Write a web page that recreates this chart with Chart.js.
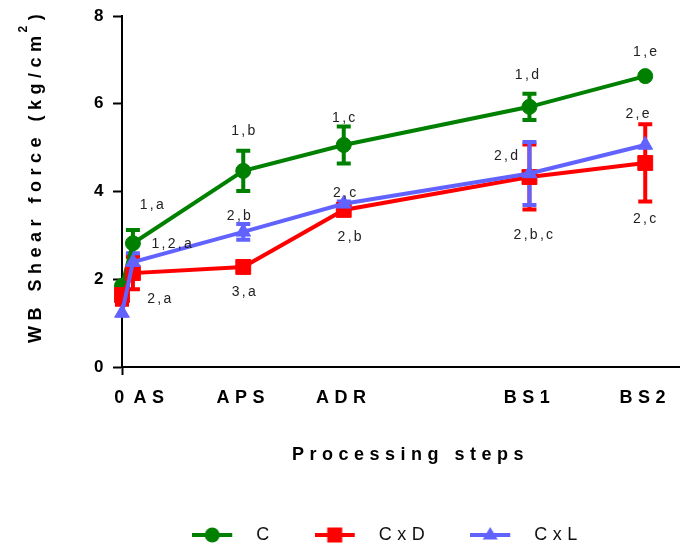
<!DOCTYPE html>
<html>
<head>
<meta charset="utf-8">
<script src="https://cdn.jsdelivr.net/npm/chart.js@4.4.1/dist/chart.umd.min.js"></script>
<style>
  html, body { margin: 0; padding: 0; background: #fff; }
  canvas { display: block; }
</style>
</head>
<body>
<canvas id="myChart" width="683" height="546"></canvas>
<script>
// x positions of the processing steps (arbitrary linear units)
const steps = [0, 1, 11.1, 20.3, 37.3, 47.9];
const tickX = [0, 2.7, 11.1, 20.3, 37.3, 47.9];
const tickLabels = ["0", "AS", "APS", "ADR", "BS1", "BS2"];

const seriesNames = ["C", "CxD", "CxL"];
const cValues = [1.85, 2.82, 4.47, 5.06, 5.93, 6.63];
const cxdValues = [1.64, 2.14, 2.28, 3.58, 4.33, 4.65];
const cxlValues = [1.23, 2.39, 3.08, 3.72, 4.41, 5.06];

const cErr = [0, 0.3, 0.46, 0.42, 0.3, 0];
const cxdErr = [0.22, 0.37, 0.05, 0.08, 0.74, 0.88];
const cxlErr = [0, 0.2, 0.18, 0.05, 0.72, 0];

// significance letters, anchored in data units
const annotText = ["1,a", "1,2,a", "2,a", "1,b", "2,b", "3,a", "1,c", "2,c", "2,b",
                   "1,d", "2,d", "2,b,c", "1,e", "2,e", "2,c"];
const annotX = [2.83, 4.65, 3.51, 11.2, 10.8, 11.25, 20.4, 20.49, 20.94,
                37.17, 35.26, 37.76, 47.99, 47.3, 47.94];
const annotY = [3.69, 2.80, 1.55, 5.38, 3.44, 1.71, 5.68, 3.97, 2.96,
                6.66, 4.81, 3.01, 7.18, 5.77, 3.37];

const colors = ["#008000", "#ff0000", "#6262ff"];
const values = [cValues, cxdValues, cxlValues];
const errors = [cErr, cxdErr, cxlErr];
const styles = ["circle", "rect", "triangle"];
const radii = [7.5, 10.5, 8.5];

const FONT = "'Liberation Sans', Arial, sans-serif";

function legendIcon(i) {
  const c = document.createElement("canvas");
  c.width = 55; c.height = 18;
  const g = c.getContext("2d");
  g.strokeStyle = colors[i];
  g.fillStyle = colors[i];
  g.lineWidth = 4;
  g.beginPath(); g.moveTo(0, 9); g.lineTo(40, 9); g.stroke();
  g.beginPath();
  if (i === 0) g.arc(20, 9, 7.5, 0, Math.PI * 2);
  else if (i === 1) g.rect(12.5, 1.5, 15, 15);
  else { g.moveTo(20, 1); g.lineTo(27.5, 13.5); g.lineTo(12.5, 13.5); g.closePath(); }
  g.fill();
  return c;
}

const spacingPlugin = {
  id: "spacing",
  beforeUpdate(chart) { chart.ctx.letterSpacing = "5.5px"; },
  beforeDraw(chart) { chart.ctx.letterSpacing = "5.5px"; },
  afterLayout(chart) {
    chart.legend.left = 92;
    chart.legend.top = 486;
  }
};

const errorBars = {
  id: "errorBars",
  beforeDatasetsDraw(chart) {
    const { ctx, scales: { x, y } } = chart;
    ctx.save();
    ctx.lineWidth = 4;
    errors.forEach((errs, s) => {
      ctx.strokeStyle = colors[s];
      errs.forEach((e, i) => {
        if (!e) return;
        const px = x.getPixelForValue(steps[i]);
        const top = y.getPixelForValue(values[s][i] + e);
        const bot = y.getPixelForValue(values[s][i] - e);
        ctx.beginPath();
        ctx.moveTo(px, top); ctx.lineTo(px, bot);
        ctx.moveTo(px - 7, top); ctx.lineTo(px + 7, top);
        ctx.moveTo(px - 7, bot); ctx.lineTo(px + 7, bot);
        ctx.stroke();
      });
    });
    ctx.restore();
  }
};

const textPlugin = {
  id: "texts",
  afterDatasetsDraw(chart) {
    const { ctx, scales: { x, y } } = chart;
    ctx.save();
    ctx.letterSpacing = "2.3px";
    ctx.font = "14px " + FONT;
    ctx.fillStyle = "#222";
    ctx.textAlign = "center";
    ctx.textBaseline = "middle";
    annotText.forEach((t, i) => {
      ctx.fillText(t, x.getPixelForValue(annotX[i]), y.getPixelForValue(annotY[i]));
    });
    ctx.restore();
  },
  afterDraw(chart) {
    const ctx = chart.ctx;
    ctx.save();
    ctx.letterSpacing = "5.5px";
    ctx.fillStyle = "#000";
    ctx.textBaseline = "alphabetic";
    ctx.textAlign = "left";
    ctx.font = "bold 18px " + FONT;
    ctx.fillText("Processing steps", 292, 460);

    // y axis title, rotated, with superscript 2
    ctx.translate(41, 343);
    ctx.rotate(-Math.PI / 2);
    const main = "WB Shear force (kg/cm";
    ctx.fillText(main, 0, 0);
    let w = ctx.measureText(main).width;
    ctx.font = "bold 12px " + FONT;
    ctx.fillText("2", w - 2, -14);
    w += ctx.measureText("2").width - 2;
    ctx.font = "bold 18px " + FONT;
    ctx.fillText(")", w, 0);
    ctx.restore();
  }
};

new Chart("myChart", {
  type: "line",
  data: {
    datasets: seriesNames.map((name, i) => ({
      label: name,
      data: steps.map((sx, j) => ({ x: sx, y: values[i][j] })),
      borderColor: colors[i],
      backgroundColor: colors[i],
      borderWidth: 4,
      pointStyle: styles[i],
      pointRadius: radii[i],
      pointBorderWidth: 1,
      tension: 0,
      fill: false,
      clip: false,
      order: 3 - i
    }))
  },
  options: {
    responsive: false,
    animation: false,
    events: [],
    layout: { autoPadding: false, padding: { top: 16, left: 0, right: 0, bottom: 0 } },
    plugins: {
      tooltip: { enabled: false },
      legend: {
        position: "bottom",
        labels: {
          usePointStyle: true,
          pointStyleWidth: 55,
          padding: 40,
          font: { family: FONT, size: 18 },
          color: "#111",
          generateLabels: (chart) => chart.data.datasets.map((ds, i) => ({
            text: ds.label,
            pointStyle: legendIcon(i),
            fillStyle: colors[i],
            strokeStyle: colors[i],
            lineWidth: 0,
            fontColor: "#111",
            hidden: false,
            datasetIndex: i
          }))
        }
      }
    },
    scales: {
      x: {
        type: "linear",
        min: 0,
        max: 51,
        afterBuildTicks: (scale) => { scale.ticks = tickX.map((v) => ({ value: v })); },
        afterFit: (scale) => {
          scale.height = scale.chart.height - scale.chart.legend.height - 367;
        },
        ticks: {
          autoSkip: false,
          maxRotation: 0,
          padding: 12,
          color: "#000",
          font: { family: FONT, size: 18, weight: "bold" },
          callback: (v, i) => tickLabels[i]
        },
        grid: {
          drawOnChartArea: false,
          tickLength: 8,
          tickWidth: 2,
          tickColor: (ctx) => (ctx.tick && ctx.tick.value === 0 ? "#000" : "rgba(0,0,0,0)")
        },
        border: { color: "#000", width: 2 }
      },
      y: {
        min: 0,
        max: 8,
        afterFit: (scale) => { scale.width = 122; },
        ticks: {
          stepSize: 2,
          padding: 4,
          color: "#000",
          font: { family: FONT, size: 17, weight: "bold" }
        },
        grid: {
          drawOnChartArea: false,
          tickLength: 9,
          tickWidth: 2,
          tickColor: "#000"
        },
        border: { color: "#000", width: 2 }
      }
    }
  },
  plugins: [spacingPlugin, errorBars, textPlugin]
});
</script>
</body>
</html>
